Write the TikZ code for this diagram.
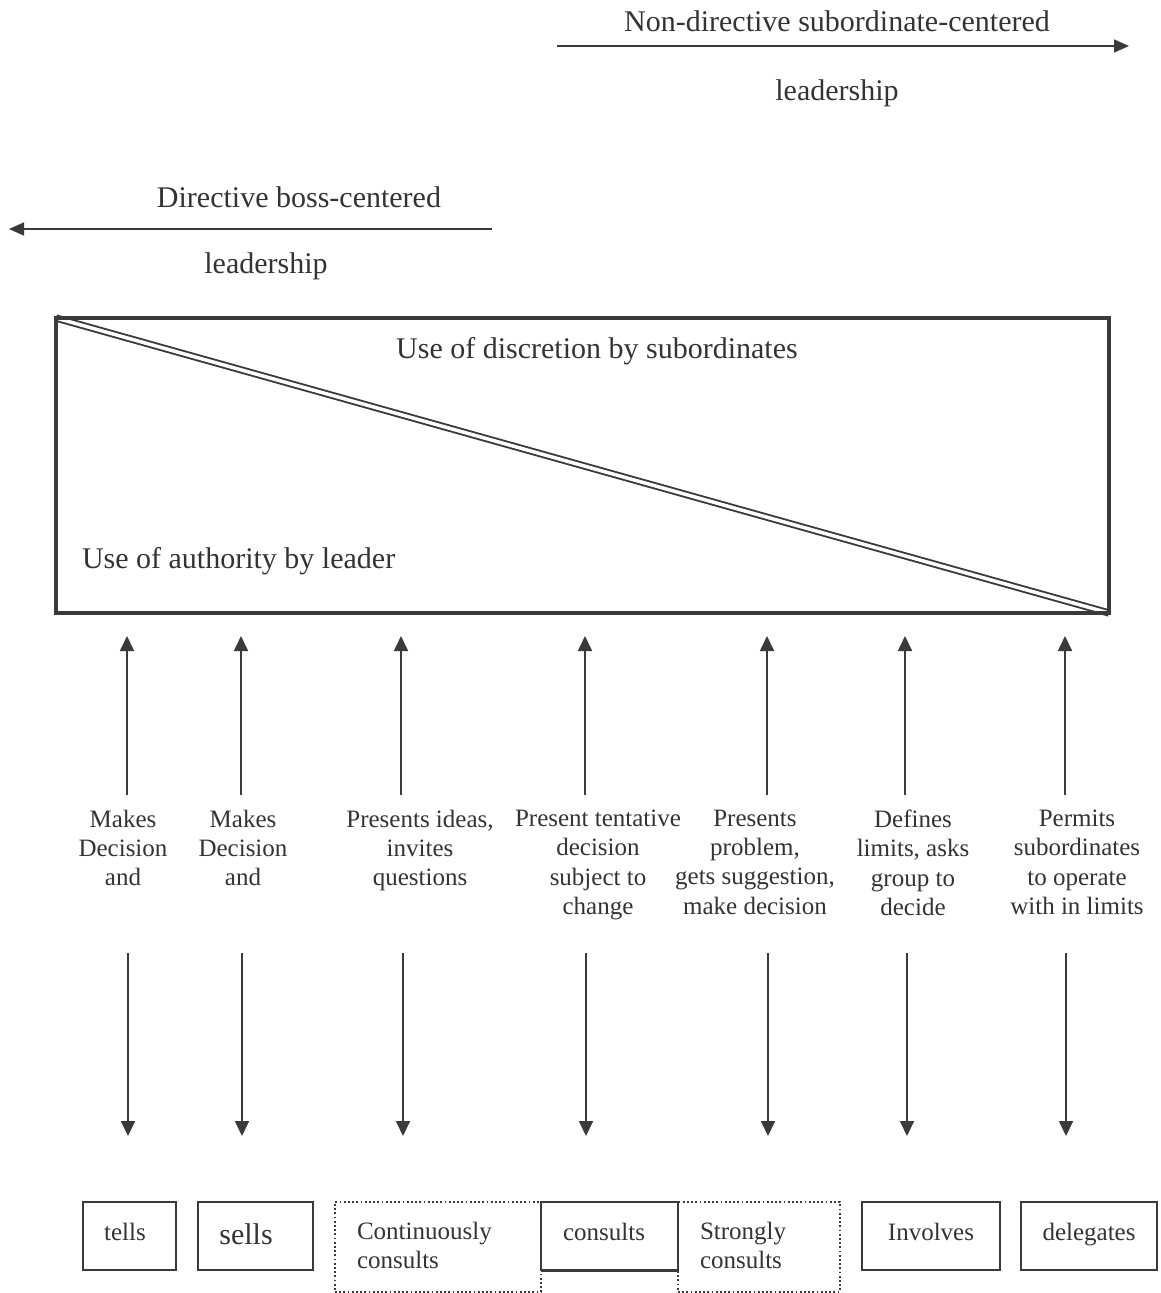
\documentclass[tikz,border=0pt]{standalone}
\usepackage{fontspec}
\setmainfont{Liberation Serif}
\usetikzlibrary{arrows.meta}
\definecolor{ink}{HTML}{3A3A3A}
\definecolor{txt}{HTML}{333333}

\begin{document}
\begin{tikzpicture}[x=1pt,y=-1pt,
  every node/.style={text=txt, inner sep=0pt, outer sep=0pt},
  big/.style={font=\fontsize{30}{35}\selectfont},
  lbl/.style={font=\fontsize{25}{29.3}\selectfont, align=center, anchor=north},
  boxtxt/.style={font=\fontsize{25}{29}\selectfont},
  arr/.style={draw=ink, line width=1.7pt, -{Triangle[length=15pt,width=14pt]}},
  toparr/.style={draw=ink, line width=1.5pt, -{Triangle[length=15pt,width=13pt]}},
  frame/.style={draw=ink, line width=2pt},
  dots/.style={draw=ink, line width=2pt, dash pattern=on 1.8pt off 2.4pt},
]
\useasboundingbox (0,0) rectangle (1161,1293);

% leadership direction arrows
\node[big] (ndtitle) at (837,21) {Non-directive subordinate-centered};
\node[big] (ndlead) at (837,93) {leadership};
\coordinate (ndS) at (557,46);
\coordinate (ndE) at (1129,46);
\draw[toparr] (ndS) -- (ndE);

\node[big] (dtitle) at (299,197) {Directive boss-centered};
\node[big] (dlead) at (266,266) {leadership};
\coordinate (dS) at (492,229);
\coordinate (dE) at (9,229);
\draw[toparr] (dS) -- (dE);

% authority / discretion continuum
\node[minimum width=1053pt, minimum height=295pt, anchor=north west] (authbox) at (56,318) {};
\draw[ink, line width=1.9pt, double=white, double distance=3.5pt]
  (authbox.north west) -- (authbox.south east);
\draw[ink, line width=4.5pt] (authbox.north west) rectangle (authbox.south east);
\node[big] (discr) at (597,351) {Use of discretion by subordinates};
\node[big, anchor=west] (auth) at (82,561) {Use of authority by leader};

% behaviour descriptions
\node[lbl] (c1) at (123,810) {Makes\\Decision\\and};
\node[lbl] (c2) at (243,810) {Makes\\Decision\\and};
\node[lbl] (c3) at (420,810) {Presents ideas,\\invites\\questions};
\node[lbl] (c4) at (598,810) {Present tentative\\decision\\subject to\\change};
\node[lbl] (c5) at (755,810) {Presents\\problem,\\gets suggestion,\\make decision};
\node[lbl] (c6) at (913,810) {Defines\\limits, asks\\group to\\decide};
\node[lbl] (c7) at (1077,810) {Permits\\subordinates\\to operate\\with in limits};

% vertical arrows
\foreach \i/\xu/\xd in {1/127/128, 2/241/242, 3/401/403, 4/585/586, 5/767/768, 6/905/907, 7/1065/1066} {
  \coordinate (up\i a) at (\xu,795);
  \coordinate (up\i b) at (\xu,636);
  \coordinate (dn\i a) at (\xd,953);
  \coordinate (dn\i b) at (\xd,1136);
  \draw[arr] (up\i a) -- (up\i b);
  \draw[arr] (dn\i a) -- (dn\i b);
}

% style boxes
\node[dots, minimum width=206pt, minimum height=90pt, anchor=north west] (contbox) at (335,1202) {};
\node[dots, minimum width=162pt, minimum height=90pt, anchor=north west] (strbox) at (678,1202) {};
\node[frame, fill=white, minimum width=93pt, minimum height=68pt, anchor=north west] (tellbox) at (83,1202) {};
\node[frame, fill=white, minimum width=115pt, minimum height=68pt, anchor=north west] (sellbox) at (198,1202) {};
\node[frame, fill=white, minimum width=137pt, minimum height=68pt, anchor=north west] (consbox) at (541,1202) {};
\draw[ink, line width=3pt] (consbox.south west) -- (consbox.south east);
\node[frame, minimum width=138pt, minimum height=68pt, anchor=north west] (invbox) at (862,1202) {};
\node[frame, minimum width=136pt, minimum height=68pt, anchor=north west] (delbox) at (1021,1202) {};

\node[boxtxt, anchor=base] (tellt) at (125,1240) {tells};
\node[big, anchor=base] (sellt) at (246,1244) {sells};
\node[boxtxt, anchor=north west, align=left] (contt) at (357,1222) {Continuously\\consults};
\node[boxtxt, anchor=base] (const) at (604,1240) {consults};
\node[boxtxt, anchor=north west, align=left] (strt) at (700,1222) {Strongly\\consults};
\node[boxtxt, anchor=base] (invt) at (931,1240) {Involves};
\node[boxtxt, anchor=base] (delt) at (1089,1240) {delegates};
\end{tikzpicture}
\end{document}
